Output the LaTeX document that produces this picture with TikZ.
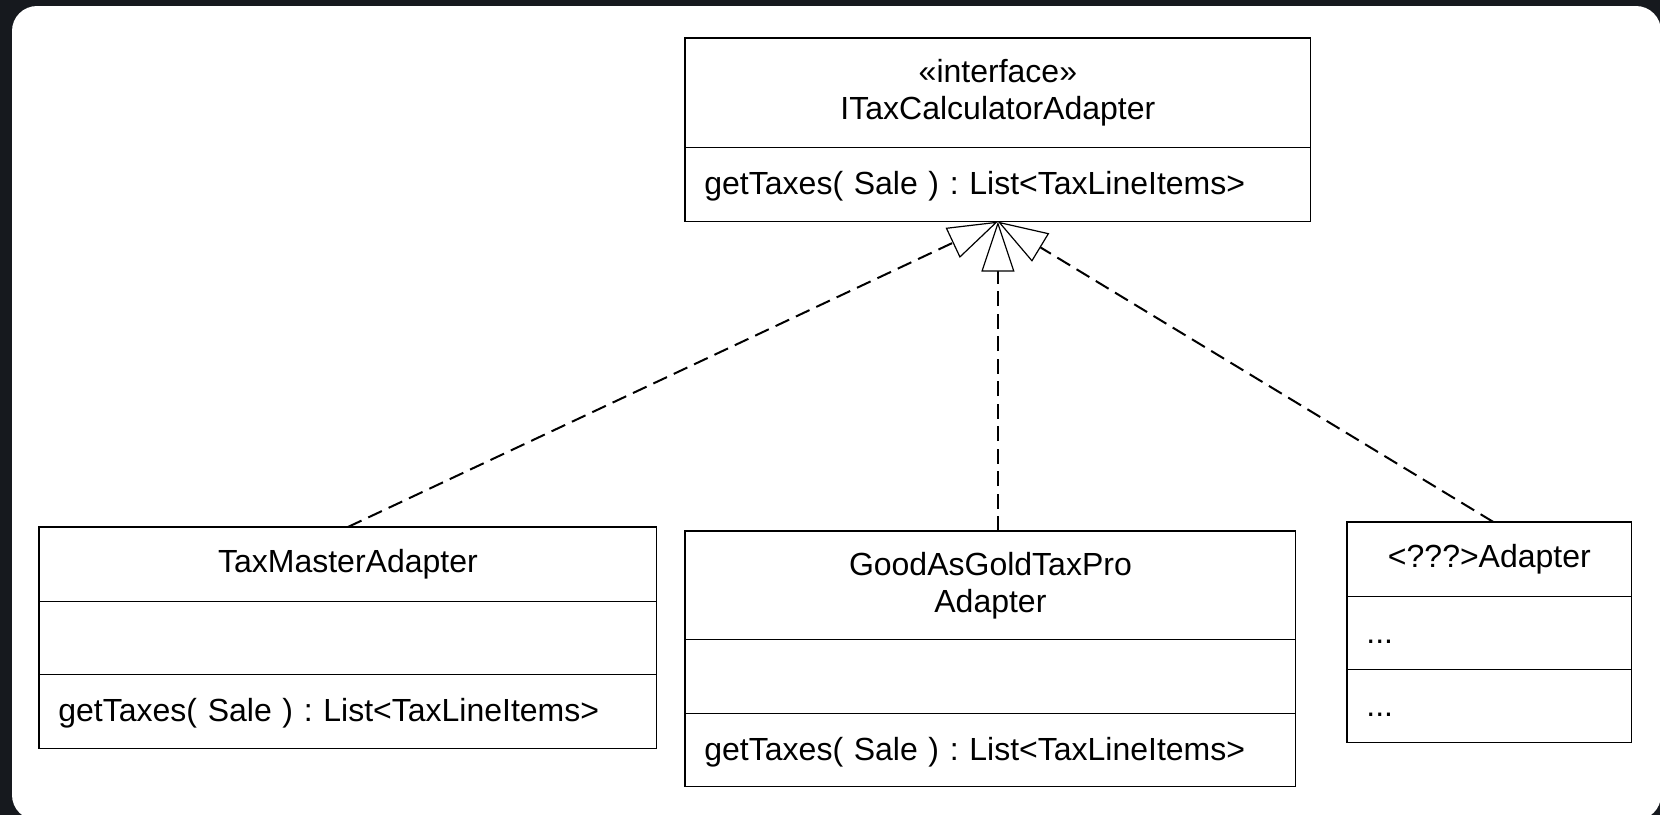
\documentclass[tikz,border=0pt]{standalone}
\usepackage{fontspec}
\setmainfont{Liberation Sans}
\usetikzlibrary{arrows.meta}
\definecolor{backdrop}{RGB}{22,25,30}
\frenchspacing
\begin{document}
\begin{tikzpicture}[x=0.5pt,y=-0.5pt,
  part/.style={inner ysep=0pt,anchor=north west,
    font=\fontsize{16}{18.5}\selectfont},
  titlepart/.style={part,align=center,inner xsep=0pt},
  memberpart/.style={part,align=left,inner xsep=9.5pt,text height=10pt,text depth=0pt},
  frame/.style={line width=0.6pt},
  realize/.style={line width=1pt,dash pattern=on 7.5pt off 3.75pt,
    -{Triangle[length=25pt,width=16.5pt,fill=white,line width=0.6pt]}}]
  \useasboundingbox (0,0) rectangle (1660,815);
  % backdrop and white card
  \begin{scope}
    \clip (0,0) rectangle (1660,815);
    \fill[backdrop] (0,0) rectangle (1660,815);
    \fill[white,rounded corners=12.5pt] (12,6) rectangle (1661,820);
  \end{scope}

  % interface
  \node[titlepart,minimum width=312.5pt,minimum height=54.5pt] (iname) at (685,38)
    {«interface»\\ITaxCalculatorAdapter};
  \node[memberpart,text width=293.5pt,minimum height=36.5pt] (iops) at (iname.south west)
    {getTaxes( Sale ) : List<TaxLineItems>};
  \draw[frame] (iname.north west) rectangle (iops.south east)
    (iname.south west) -- (iname.south east);

  % TaxMasterAdapter
  \node[titlepart,minimum width=308.5pt,minimum height=37pt] (tname) at (39,527)
    {TaxMasterAdapter};
  \node[memberpart,text width=289.5pt,minimum height=36pt] (tattr) at (tname.south west) {};
  \node[memberpart,text width=289.5pt,minimum height=36.5pt] (tops) at (tattr.south west)
    {getTaxes( Sale ) : List<TaxLineItems>};
  \draw[frame] (tname.north west) rectangle (tops.south east)
    (tname.south west) -- (tname.south east)
    (tattr.south west) -- (tattr.south east);

  % GoodAsGoldTaxProAdapter
  \node[titlepart,minimum width=305pt,minimum height=54pt] (gname) at (685,531)
    {GoodAsGoldTaxPro\\Adapter};
  \node[memberpart,text width=286pt,minimum height=36.5pt] (gattr) at (gname.south west) {};
  \node[memberpart,text width=286pt,minimum height=36pt] (gops) at (gattr.south west)
    {getTaxes( Sale ) : List<TaxLineItems>};
  \draw[frame] (gname.north west) rectangle (gops.south east)
    (gname.south west) -- (gname.south east)
    (gattr.south west) -- (gattr.south east);

  % <???>Adapter
  \node[titlepart,minimum width=142pt,minimum height=37pt] (qname) at (1347,522)
    {<???>Adapter};
  \node[memberpart,text width=123pt,minimum height=36pt] (qattr) at (qname.south west) {...};
  \node[memberpart,text width=123pt,minimum height=36pt] (qops) at (qattr.south west) {...};
  \draw[frame] (qname.north west) rectangle (qops.south east)
    (qname.south west) -- (qname.south east)
    (qattr.south west) -- (qattr.south east);

  % realizations
  \draw[realize] (tname.north) -- (iops.south);
  \draw[realize] (iops.south |- gname.north) -- (iops.south);
  \draw[realize] ([xshift=2pt]qname.north) -- (iops.south);
\end{tikzpicture}
\end{document}
